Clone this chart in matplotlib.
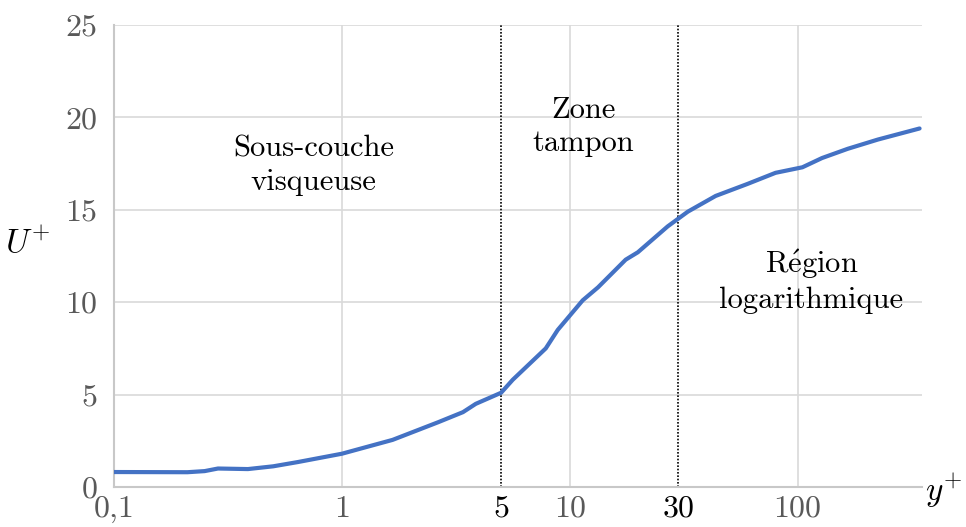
import numpy as np
import matplotlib
matplotlib.use("Agg")
import matplotlib.pyplot as plt

plt.rcParams["font.family"] = ["cmr10", "DejaVu Serif"]
plt.rcParams["mathtext.fontset"] = "cm"
plt.rcParams["axes.unicode_minus"] = False

# Velocity profile U+ as a function of y+ (wall units)
y_plus = [0.1, 0.21, 0.25, 0.286, 0.387, 0.5, 0.641, 1.0, 1.67, 2.64, 3.4, 3.87,
          5.0, 5.62, 7.85, 8.86, 11.4, 13.3, 17.6, 19.9, 26.9, 33.0, 43.7, 60.3,
          80.0, 105.0, 128.0, 166.0, 225.0, 343.0]
u_plus = [0.81, 0.8, 0.86, 1.0, 0.97, 1.12, 1.35, 1.8, 2.55, 3.5, 4.05, 4.5,
          5.1, 5.8, 7.5, 8.5, 10.1, 10.8, 12.3, 12.7, 14.1, 14.9, 15.75, 16.4,
          17.0, 17.3, 17.8, 18.3, 18.8, 19.4]

x_ticks = [0.1, 1, 5, 10, 30, 100]
x_labels = ["0,1", "1", "5", "10", "30", "100"]
y_ticks = [0, 5, 10, 15, 20, 25]
zone_limits = [5, 30]

grid_col = "#d9d9d9"
tick_col = "#595959"

fig = plt.figure(figsize=(9.66, 5.27), dpi=100)
ax = fig.add_axes([0.118, 0.0759, 0.836, 0.8767])

ax.set_xscale("log")
ax.set_xlim(0.1, 350)
ax.set_ylim(0, 25)

# light grid: horizontal every 5, vertical at decades
for yv in y_ticks[1:]:
    ax.axhline(yv, color=grid_col, lw=1.2, zorder=0)
for xv in [1, 10, 100]:
    ax.axvline(xv, color=grid_col, lw=1.2, zorder=0)

# boundaries between the layers
for xv in zone_limits:
    ax.plot([xv, xv], [0, 25], color="black", ls=(0, (1, 1)), lw=1.2, zorder=2)

ax.plot(y_plus, u_plus, color="#4472C4", lw=3, solid_capstyle="round",
        solid_joinstyle="round", zorder=3)

for s in ["top", "right"]:
    ax.spines[s].set_visible(False)
for s in ["left", "bottom"]:
    ax.spines[s].set_color("#c8c8c8")
    ax.spines[s].set_linewidth(1.5)

ax.set_xticks(x_ticks)
ax.set_xticklabels(x_labels)
ax.xaxis.set_minor_locator(matplotlib.ticker.NullLocator())
ax.set_yticks(y_ticks)
ax.tick_params(length=0, labelsize=23, colors=tick_col)
ax.tick_params(axis="x", pad=6)
ax.tick_params(axis="y", pad=12)
for lbl, xv in zip(ax.get_xticklabels(), x_ticks):
    if xv in zone_limits:
        lbl.set_color("black")

fs = 22
ax.text(0.753, 17.4, "Sous-couche\nvisqueuse", ha="center", va="center",
        fontsize=fs, linespacing=1.25)
ax.text(11.5, 19.5, "Zone\ntampon", ha="center", va="center",
        fontsize=fs, linespacing=1.25)
ax.text(115, 11.15, "R$\\mathrm{\\acute{e}}$gion\nlogarithmique", ha="center",
        va="center", fontsize=fs, linespacing=1.25)

fig.text(0.029, 0.54, r"$U^{+}$", fontsize=24, ha="center", va="center")
fig.text(0.977, 0.068, r"$y^{+}$", fontsize=24, ha="center", va="center")

fig.savefig("out.png", dpi=100)
